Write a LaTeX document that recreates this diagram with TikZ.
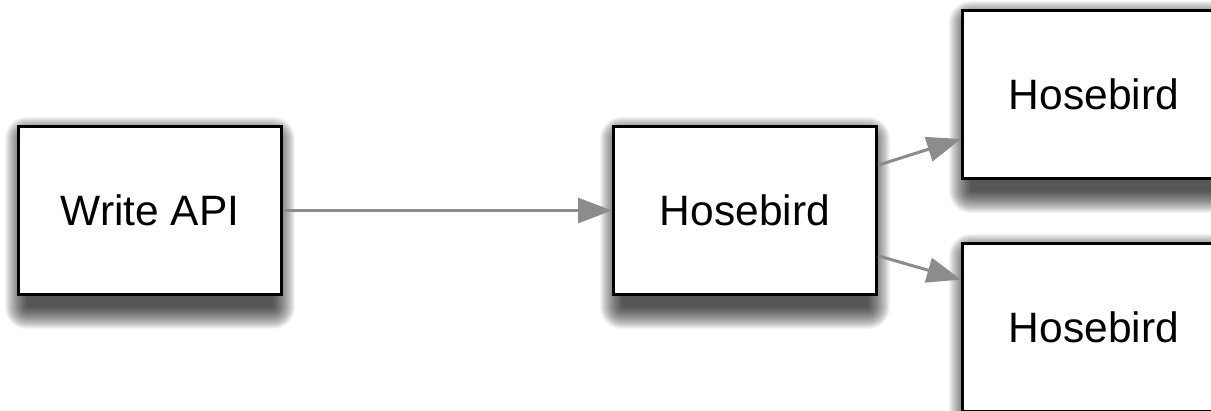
\documentclass[tikz,border=0pt]{standalone}
\usepackage{fontspec}
\setmainfont{Liberation Sans}
\usetikzlibrary{arrows.meta,calc}
\pgfdeclarelayer{bg}
\pgfsetlayers{bg,main}
\definecolor{arrgray}{RGB}{140,140,140}
\begin{document}
\begin{tikzpicture}[x=1pt,y=-1pt,
  blk/.style={draw=black, line width=3pt, fill=white, minimum width=263pt, minimum height=168pt,
    inner sep=0pt, font=\fontsize{42.5}{50}\selectfont},
  arr/.style={draw=arrgray, line width=3pt, -{Triangle[length=34pt,width=25pt]}}]
\useasboundingbox (0,0) rectangle (1211,411);
\clip (0,0) rectangle (1211,411);
\node[blk] (wapi) at (150,210.5) {Write API};
\node[blk] (mid) at (745,210.5) {Hosebird};
\node[blk] (top) at (1094,94.5) {Hosebird};
\node[blk] (bot) at (1094,327.5) {Hosebird};
\draw[arr] (wapi.east) -- (mid.west);
\draw[arr] ($(mid.north east)!0.235!(mid.south east)$) -- ($(top.north west)!0.76!(top.south west)$);
\draw[arr] ($(mid.north east)!0.765!(mid.south east)$) -- ($(bot.north west)!0.22!(bot.south west)$);
\begin{pgfonlayer}{bg}
\fill[white] (0,0) rectangle (1211,411);
\clip (0,0) rectangle (1211,411);
\foreach \n in {wapi,mid,top,bot}{
  \foreach \r in {0,...,22}{
    \fill[black,opacity=0.042,rounded corners=\r pt]
      ([xshift={10-\r}, yshift={\r-14}]\n.north west) rectangle ([xshift={\r-10}, yshift={-11-\r}]\n.south east);
  }
}
\end{pgfonlayer}
\end{tikzpicture}
\end{document}
